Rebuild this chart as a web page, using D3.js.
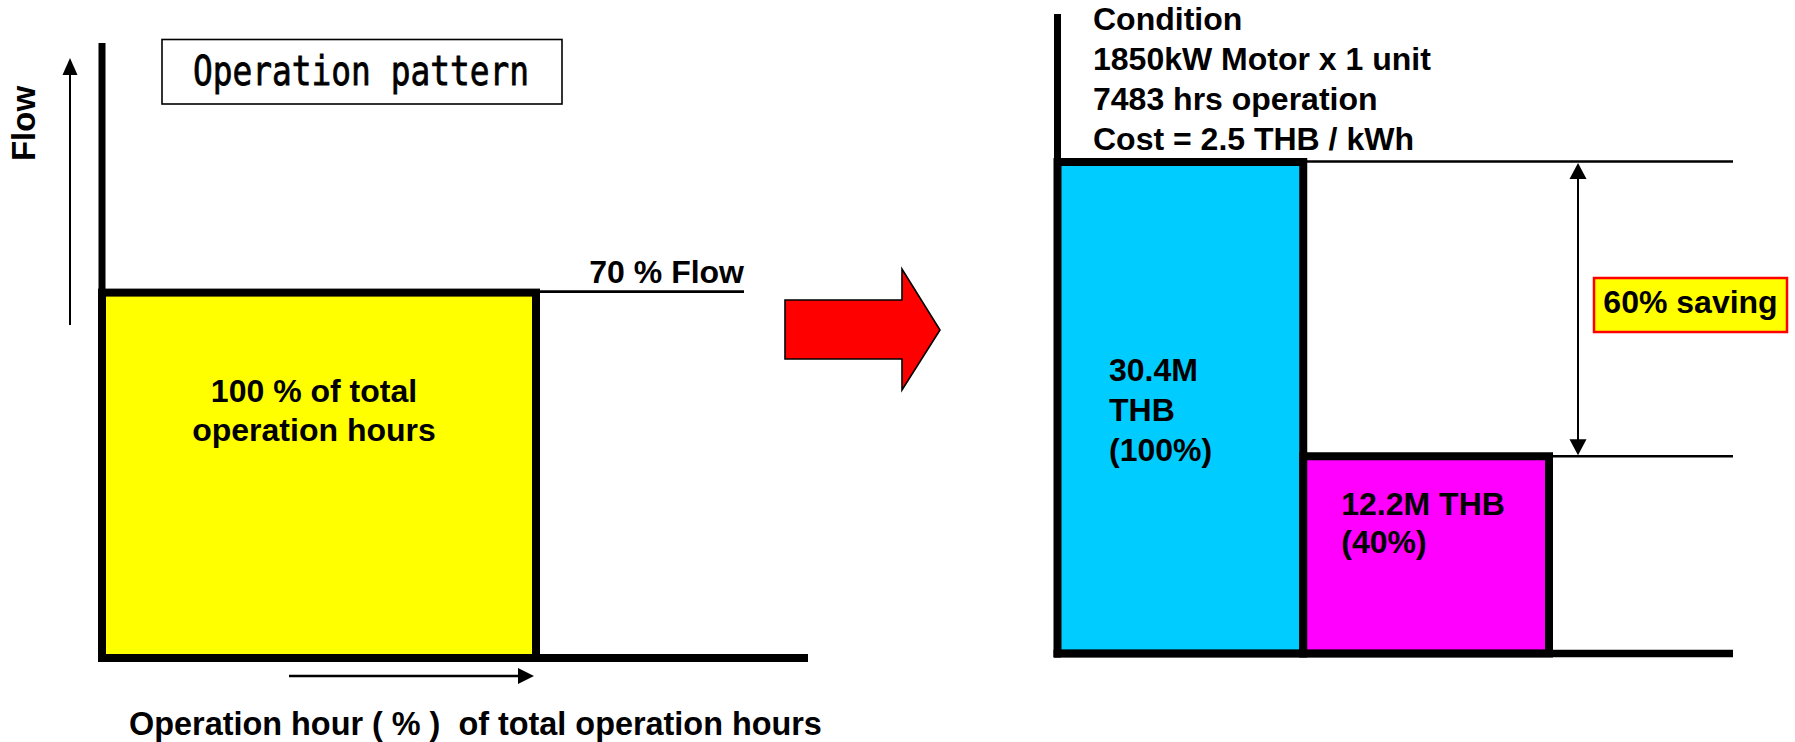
<!DOCTYPE html>
<html><head><meta charset="utf-8">
<script src="https://cdn.jsdelivr.net/npm/d3@7"></script>
<style>
html,body{margin:0;padding:0;background:#fff;}
svg{display:block;}
text{font-family:"Liberation Sans",Arial,Helvetica,sans-serif;font-weight:bold;fill:#000;}
</style>
</head><body>
<svg id="c" width="1795" height="742"></svg>
<script>
// ---------- data ----------
const patternCategories = ["Operation hour"];
const patternHoursPct = [100];
const patternFlowPct = [70];
const patternLabels = [["100 % of total", "operation hours"]];
const patternTitle = "Operation pattern";
const flowAxisLabel = "Flow";
const hourAxisLabel = "Operation hour ( % )  of total operation hours";
const flowLineLabel = "70 % Flow";

const costCategories = ["Current", "After"];
const costValuesMTHB = [30.4, 12.2];
const costPct = [100, 40];
const costLabels = [["30.4M", "THB", "(100%)"], ["12.2M THB", "(40%)"]];
const costColors = ["#00CCFF", "#FF00FF"];
const conditionLines = ["Condition", "1850kW Motor x 1 unit", "7483 hrs operation", "Cost = 2.5 THB / kWh"];
const savingLabel = "60% saving";

// ---------- setup ----------
const svg = d3.select("#c");

// ---------- left panel ----------
const xL = d3.scaleLinear().domain([0, 100]).range([102, 536]);
const yL = d3.scaleLinear().domain([0, 100]).range([658, 136]);
const left = svg.append("g");

const pat = patternCategories.map((c, i) => ({c, h: patternHoursPct[i], f: patternFlowPct[i], lab: patternLabels[i]}));

left.selectAll("rect.bar").data(pat).join("rect")
  .attr("class", "bar")
  .attr("x", d => xL(0)).attr("y", d => yL(d.f))
  .attr("width", d => xL(d.h) - xL(0)).attr("height", d => yL(0) - yL(d.f))
  .attr("fill", "#FFFF00").attr("stroke", "#000").attr("stroke-width", 8);

// 70% flow reference line
left.selectAll("line.flow").data(pat).join("line")
  .attr("x1", d => xL(d.h) + 4).attr("x2", 744)
  .attr("y1", d => yL(d.f) - 1).attr("y2", d => yL(d.f) - 1)
  .attr("stroke", "#000").attr("stroke-width", 2.7);
left.selectAll("text.flowlab").data(pat).join("text")
  .attr("x", 744).attr("y", d => yL(d.f) - 10)
  .attr("text-anchor", "end").attr("font-size", 32)
  .text(flowLineLabel);

// labels in bar
pat.forEach(d => {
  d.lab.forEach((t, j) => {
    left.append("text")
      .attr("x", (xL(0) + xL(d.h)) / 2 - 5)
      .attr("y", 402 + j * 39)
      .attr("text-anchor", "middle").attr("font-size", 32)
      .text(t);
  });
});

// axes
left.append("line").attr("x1", xL(0)).attr("x2", xL(0)).attr("y1", 43).attr("y2", yL(0) + 4)
  .attr("stroke", "#000").attr("stroke-width", 7);
left.append("line").attr("x1", xL(0) - 4).attr("x2", 808).attr("y1", yL(0)).attr("y2", yL(0))
  .attr("stroke", "#000").attr("stroke-width", 8);

// flow arrow (vertical)
left.append("line").attr("x1", 70).attr("x2", 70).attr("y1", 325).attr("y2", 72)
  .attr("stroke", "#000").attr("stroke-width", 2);
left.append("path").attr("d", "M70,58 L77.5,75 L62.5,75 Z").attr("fill", "#000");
left.append("text")
  .attr("transform", "translate(35,123.5) rotate(-90)")
  .attr("text-anchor", "middle").attr("font-size", 33)
  .text(flowAxisLabel);

// hour arrow (horizontal)
left.append("line").attr("x1", 289).attr("x2", 520).attr("y1", 676).attr("y2", 676)
  .attr("stroke", "#000").attr("stroke-width", 2.5);
left.append("path").attr("d", "M534,676 L518,668 L518,684 Z").attr("fill", "#000");
left.append("text")
  .attr("x", 475.5).attr("y", 735)
  .attr("text-anchor", "middle").attr("font-size", 32.4)
  .style("white-space", "pre")
  .text(hourAxisLabel);

// title box
left.append("rect").attr("x", 162).attr("y", 39.5).attr("width", 400).attr("height", 64.5)
  .attr("fill", "#fff").attr("stroke", "#000").attr("stroke-width", 1.6);
left.append("text")
  .attr("x", 193).attr("y", 85)
  .attr("font-size", 41)
  .attr("textLength", 336).attr("lengthAdjust", "spacingAndGlyphs")
  .style("font-family", "'DejaVu Sans Mono','Liberation Mono',monospace")
  .style("font-weight", "normal")
  .attr("stroke", "#000").attr("stroke-width", 0.8)
  .text(patternTitle);

// ---------- red arrow ----------
svg.append("path")
  .attr("d", "M785,300 L902,300 L902,269 L940,330 L902,390 L902,359 L785,359 Z")
  .attr("fill", "#FF0000").attr("stroke", "#000").attr("stroke-width", 1.6)
  .attr("stroke-linejoin", "miter");

// ---------- right panel ----------
const xR = d3.scaleBand().domain(costCategories).range([1057.5, 1549]).padding(0);
const yR = d3.scaleLinear().domain([0, costValuesMTHB[0]]).range([653.5, 162]);
const right = svg.append("g");
const costs = costCategories.map((c, i) => ({c, v: costValuesMTHB[i], p: costPct[i], lab: costLabels[i], col: costColors[i]}));

// reference lines
right.append("line")
  .attr("x1", xR(costCategories[1])).attr("x2", 1733)
  .attr("y1", yR(costValuesMTHB[0]) - 0.5).attr("y2", yR(costValuesMTHB[0]) - 0.5)
  .attr("stroke", "#000").attr("stroke-width", 2.7);
right.append("line")
  .attr("x1", xR(costCategories[1]) + xR.bandwidth()).attr("x2", 1733)
  .attr("y1", yR(costValuesMTHB[1])).attr("y2", yR(costValuesMTHB[1]))
  .attr("stroke", "#000").attr("stroke-width", 2.7);

right.selectAll("rect.bar").data(costs).join("rect")
  .attr("class", "bar")
  .attr("x", d => xR(d.c)).attr("y", d => yR(d.v))
  .attr("width", xR.bandwidth()).attr("height", d => yR(0) - yR(d.v))
  .attr("fill", d => d.col).attr("stroke", "#000").attr("stroke-width", 8);

// bar labels
const labOffsets = [{dx: 51.5, y0: 381, dy: 40}, {dx: 38, y0: 515, dy: 38}];
costs.forEach((d, i) => {
  d.lab.forEach((t, j) => {
    right.append("text")
      .attr("x", xR(d.c) + labOffsets[i].dx)
      .attr("y", labOffsets[i].y0 + j * labOffsets[i].dy)
      .attr("font-size", 32)
      .text(t);
  });
});

// axes
right.append("line").attr("x1", xR.range()[0]).attr("x2", xR.range()[0]).attr("y1", 14).attr("y2", yR(0) + 4)
  .attr("stroke", "#000").attr("stroke-width", 7);
right.append("line").attr("x1", xR.range()[0] - 4).attr("x2", 1733).attr("y1", yR(0)).attr("y2", yR(0))
  .attr("stroke", "#000").attr("stroke-width", 7.5);

// double arrow
const ax = 1578;
const yTop = yR(costValuesMTHB[0]) + 1, yBot = yR(costValuesMTHB[1]) - 1;
right.append("line").attr("x1", ax).attr("x2", ax).attr("y1", yTop + 12).attr("y2", yBot - 12)
  .attr("stroke", "#000").attr("stroke-width", 2);
right.append("path").attr("d", `M${ax},${yTop} L${ax + 8.5},${yTop + 16} L${ax - 8.5},${yTop + 16} Z`).attr("fill", "#000");
right.append("path").attr("d", `M${ax},${yBot} L${ax + 8.5},${yBot - 16} L${ax - 8.5},${yBot - 16} Z`).attr("fill", "#000");

// saving box
right.append("rect").attr("x", 1594).attr("y", 278).attr("width", 193).attr("height", 54)
  .attr("fill", "#FFFF00").attr("stroke", "#FF0000").attr("stroke-width", 2.5);
right.append("text").attr("x", 1690.5).attr("y", 313)
  .attr("text-anchor", "middle").attr("font-size", 32)
  .text(savingLabel);

// condition text
right.selectAll("text.cond").data(conditionLines).join("text")
  .attr("class", "cond")
  .attr("x", 1093).attr("y", (d, i) => 30 + i * 40)
  .attr("font-size", 32)
  .text(d => d);
</script>
</body></html>
